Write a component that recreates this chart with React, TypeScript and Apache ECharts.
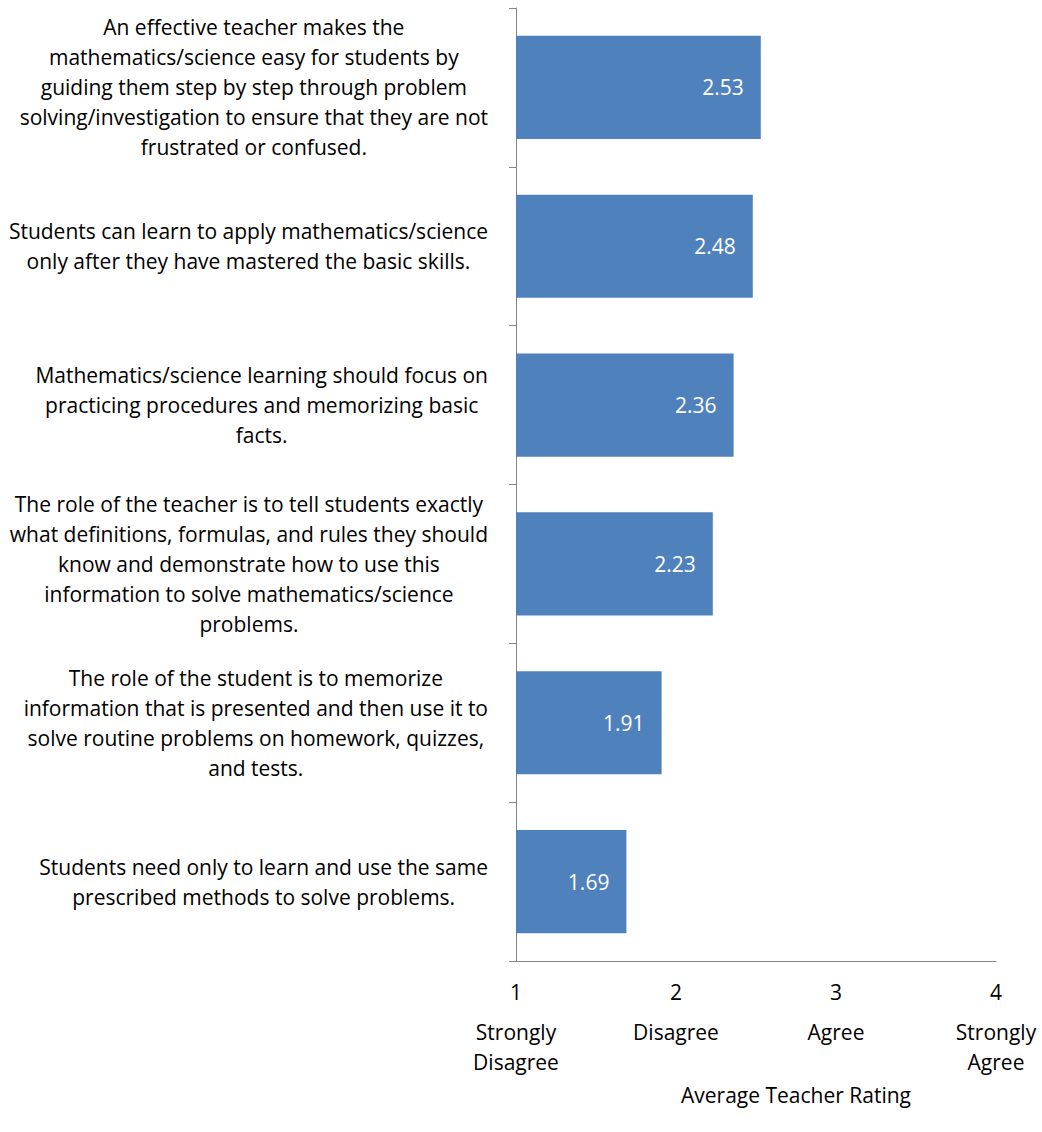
import React, { useEffect, useRef } from "react";
import * as echarts from "echarts";

const categories: string[] = [
  "An effective teacher makes the\nmathematics/science easy for students by\nguiding them step by step through problem\nsolving/investigation to ensure that they are not\nfrustrated or confused.",
  "Students can learn to apply mathematics/science\nonly after they have mastered the basic skills.",
  "Mathematics/science learning should focus on\npracticing procedures and memorizing basic\nfacts.",
  "The role of the teacher is to tell students exactly\nwhat definitions, formulas, and rules they should\nknow and demonstrate how to use this\ninformation to solve mathematics/science\nproblems.",
  "The role of the student is to memorize\ninformation that is presented and then use it to\nsolve routine problems on homework, quizzes,\nand tests.",
  "Students need only to learn and use the same\nprescribed methods to solve problems.",
];
const values: number[] = [2.53, 2.48, 2.36, 2.23, 1.91, 1.69];
const tickValues: number[] = [1, 2, 3, 4];
const tickLabels: string[] = ["Strongly\nDisagree", "Disagree", "Agree", "Strongly\nAgree"];
const axisTitle = "Average Teacher Rating";

const FONT = "'Open Sans', Lato, sans-serif";
const FS = 21;
const AXIS_COLOR = "#868686";
const BAR_COLOR = "#4F81BD";

export default function App() {
  const ref = useRef<HTMLDivElement>(null);
  useEffect(() => {
    if (!ref.current) return;
    const chart = echarts.init(ref.current, null, { renderer: "svg" });
    chart.setOption({
      animation: false,
      backgroundColor: "#fff",
      textStyle: { fontFamily: FONT },
      grid: { left: 516, right: 46, top: 8, bottom: 171, containLabel: false },
      xAxis: {
        type: "value",
        min: 1,
        max: 4,
        interval: 1,
        splitLine: { show: false },
        axisTick: { show: false },
        axisLine: { show: true, lineStyle: { color: AXIS_COLOR, width: 1 } },
        axisLabel: {
          margin: 6,
          showMinLabel: true,
          showMaxLabel: true,
          formatter: (v: number) => {
            const idx = tickValues.indexOf(v);
            const lines = idx >= 0 ? tickLabels[idx].split("\n") : [];
            return ["{n|" + v + "}", ...lines.map((l) => "{t|" + l + "}")].join("\n");
          },
          rich: {
            n: { fontFamily: FONT, fontSize: FS, lineHeight: 50, color: "#000", align: "center" },
            t: { fontFamily: FONT, fontSize: FS, lineHeight: 30, color: "#000", align: "center" },
          },
        },
      },
      yAxis: {
        type: "category",
        inverse: true,
        data: categories,
        axisLine: { show: true, lineStyle: { color: AXIS_COLOR, width: 1 } },
        axisTick: { show: true, length: 7, lineStyle: { color: AXIS_COLOR } },
        axisLabel: {
          margin: 28,
          align: "right",
          interval: 0,
          formatter: (s: string) => s.split("\n").map((l) => "{c|" + l + "}").join("\n"),
          rich: {
            c: { fontFamily: FONT, fontSize: FS, lineHeight: 30, color: "#000", align: "center" },
          },
        },
      },
      series: [
        {
          type: "bar",
          data: values,
          barCategoryGap: "35%",
          itemStyle: { color: BAR_COLOR },
          label: {
            show: true,
            position: "insideRight",
            distance: 17,
            color: "#fff",
            fontFamily: FONT,
            fontSize: FS,
            formatter: (p: any) => p.value.toFixed(2),
          },
        },
      ],
      graphic: [
        {
          type: "text",
          x: 796,
          y: 1095,
          style: {
            text: axisTitle,
            fontFamily: FONT,
            fontSize: FS,
            fill: "#000",
            textAlign: "center",
            textVerticalAlign: "middle",
          },
        },
      ],
    });
    return () => chart.dispose();
  }, []);
  return (
    <div
      ref={ref}
      style={{ position: "absolute", left: 0, top: 0, width: 1042, height: 1132 }}
    />
  );
}
